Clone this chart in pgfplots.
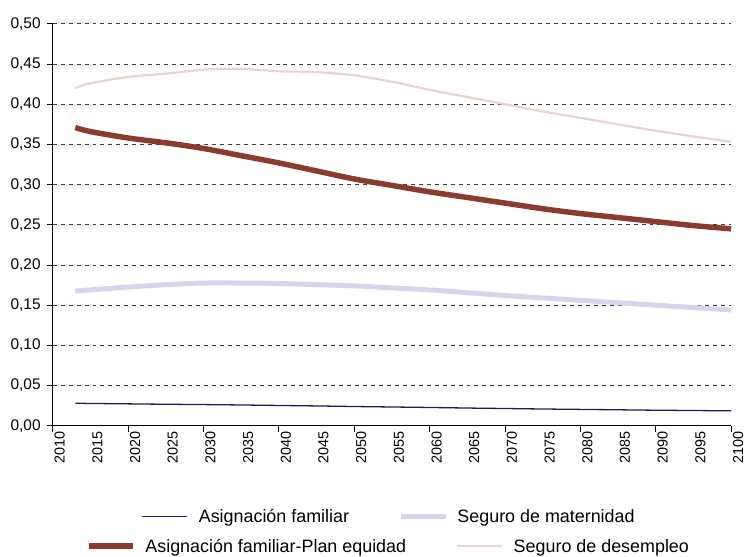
\documentclass[border=0pt]{standalone}
\usepackage{pgfplots}
\pgfplotsset{compat=1.18}
\usepackage{pgfplotstable}
\usepackage{fontspec}
\setmainfont{Liberation Sans}
\definecolor{cAsig}{HTML}{1C1C5E}
\definecolor{cMat}{HTML}{D5D5EC}
\definecolor{cPlan}{HTML}{8B3A2E}
\definecolor{cDes}{HTML}{E6D4CE}
\pgfplotstableread{
year asig mat plan des
2013 0.0280 0.1675 0.371 0.420
2015 0.0277 0.1690 0.366 0.426
2020 0.0272 0.1725 0.358 0.434
2025 0.0267 0.1755 0.352 0.438
2030 0.0263 0.1775 0.345 0.443
2035 0.0258 0.1775 0.336 0.444
2040 0.0252 0.1770 0.327 0.441
2045 0.0246 0.1755 0.317 0.440
2050 0.0239 0.1740 0.307 0.436
2055 0.0233 0.1715 0.299 0.428
2060 0.0227 0.1690 0.291 0.418
2065 0.0220 0.1655 0.284 0.409
2070 0.0214 0.1620 0.277 0.400
2075 0.0208 0.1590 0.270 0.391
2080 0.0203 0.1560 0.264 0.383
2085 0.0198 0.1530 0.259 0.375
2090 0.0193 0.1500 0.254 0.367
2095 0.0189 0.1470 0.249 0.360
2100 0.0185 0.1440 0.245 0.353
}\datatable
\begin{document}
\begin{tikzpicture}
\useasboundingbox (-53pt,-131pt) rectangle (697pt,428pt);
\begin{axis}[
  at={(0,0)}, anchor=south west,
  scale only axis, width=682pt, height=404pt,
  xmin=2010, xmax=2100, ymin=0, ymax=0.5,
  clip=false,
  axis x line=bottom, axis y line=left,
  axis line style={-, black, line width=0.9pt},
  xtick={2010,2015,...,2100},
  major x tick style={draw=none},
  minor xtick={2010,2020,...,2100},
  minor x tick style={black, line width=0.9pt},
  minor tick length=6pt,
  ytick={0,0.05,0.10,0.15,0.20,0.25,0.30,0.35,0.40,0.45,0.50},
  major tick length=6pt,
  y tick style={black, line width=0.9pt},
  tick align=outside,
  ymajorgrids,
  major grid style={black!75, line width=0.9pt, dash pattern=on 4pt off 4pt},
  xticklabel style={rotate=90, anchor=east, font=\fontsize{14.5}{16}\selectfont, inner sep=0pt, yshift=-7pt, /pgf/number format/1000 sep={}},
  yticklabel style={font=\fontsize{15.5}{17}\selectfont, inner sep=0pt, xshift=-6pt,
    /pgf/number format/.cd, fixed, fixed zerofill, precision=2, use comma},
  /pgf/number format/assume math mode=true,
]
\addplot[cDes, line width=2.2pt, smooth] table[x=year, y=des] {\datatable};
\addplot[cMat, line width=5pt, smooth] table[x=year, y=mat] {\datatable};
\addplot[cPlan, line width=5.5pt, smooth] table[x=year, y=plan] {\datatable};
\addplot[cAsig, line width=1.3pt, smooth] table[x=year, y=asig] {\datatable};
\end{axis}
% legend
\begin{scope}[every node/.style={font=\fontsize{18}{20}\selectfont, inner sep=0pt, anchor=base west}]
\draw[cAsig, line width=1.3pt] (90pt,-91pt) -- (135pt,-91pt);
\node at (146.7pt,-97.5pt) {Asignación familiar};
\draw[cMat, line width=4.8pt] (350pt,-91pt) -- (395pt,-91pt);
\node at (406.7pt,-97.5pt) {Seguro de maternidad};
\draw[cPlan, line width=5.3pt] (36.7pt,-121pt) -- (81pt,-121pt);
\node at (93pt,-127.5pt) {Asignación familiar-Plan equidad};
\draw[cDes, line width=2.2pt] (406.7pt,-121pt) -- (451.7pt,-121pt);
\node at (463.3pt,-127.5pt) {Seguro de desempleo};
\end{scope}
\end{tikzpicture}
\end{document}
